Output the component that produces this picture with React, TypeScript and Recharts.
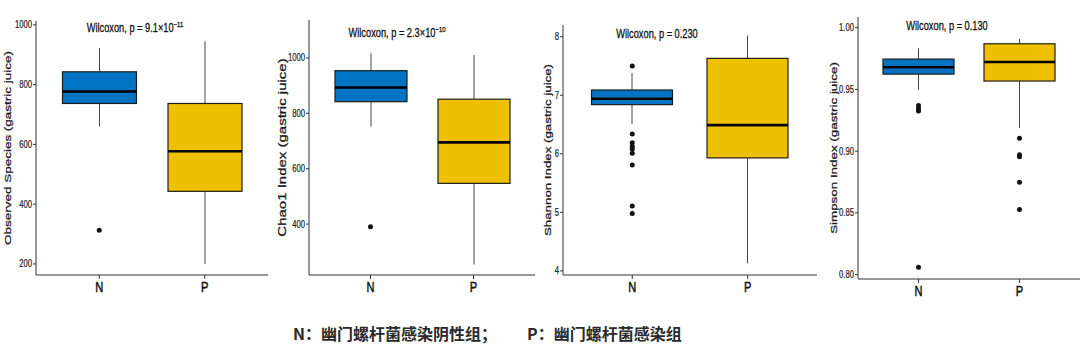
import React from "react";
import { ComposedChart, Bar, Scatter, XAxis, YAxis } from "recharts";

const groups = ["N", "P"];

// five-number summaries per group: [min, q1, median, q3, max]
const observedN = [660, 737, 777, 843, 923];
const observedP = [200, 443, 577, 737, 945];
const observedOutN = [313];
const observedOutP: number[] = [];

const chao1N = [752, 842, 893, 954, 1017];
const chao1P = [254, 547, 695, 851, 1011];
const chao1OutN = [390];
const chao1OutP: number[] = [];

const shannonN = [6.51, 6.84, 6.94, 7.09, 7.38];
const shannonP = [4.13, 5.93, 6.49, 7.63, 8.02];
const shannonOutN = [7.5, 6.34, 6.19, 6.13, 6.08, 6.01, 5.81, 5.11, 4.98];
const shannonOutP: number[] = [];

const simpsonN = [0.9497, 0.9624, 0.968, 0.9746, 0.9833];
const simpsonP = [0.9187, 0.9568, 0.9722, 0.987, 0.9908];
const simpsonOutN = [0.937, 0.9346, 0.9325, 0.806];
const simpsonOutP = [0.9105, 0.897, 0.8954, 0.8749, 0.8527];

const observedTicks = [200, 400, 600, 800, 1000];
const chao1Ticks = [400, 600, 800, 1000];
const shannonTicks = [4, 5, 6, 7, 8];
const simpsonTicks = [0.8, 0.85, 0.9, 0.95, 1.0];

const FONT = "'Liberation Sans', Arial, sans-serif";
const COLORS: Record<string, string> = { N: "#0073C2", P: "#EFC000" };
// the source image is squeezed sideways, so text is drawn narrower
const SQ = 0.74;

function BoxShape(props: any) {
  const { x, y, width, height, payload } = props;
  const [lo, q1, med, q3, hi] = payload.stats;
  const top = Math.min(y, y + height);
  const h = Math.abs(height);
  const k = h / (q3 - q1); // px per unit, from the bar the y scale drew
  const py = (v: number) => top + (q3 - v) * k;
  const cx = x + width / 2;
  return (
    <g>
      <line x1={cx} x2={cx} y1={py(hi)} y2={top} stroke="#444" strokeWidth={1} />
      <line x1={cx} x2={cx} y1={top + h} y2={py(lo)} stroke="#444" strokeWidth={1} />
      <rect x={x} y={top} width={width} height={h} fill={payload.color} stroke="#1e1e1e" strokeWidth={1.2} />
      <line x1={x} x2={x + width} y1={py(med)} y2={py(med)} stroke="#000" strokeWidth={2.6} />
    </g>
  );
}

function Dot(props: any) {
  if (props.cx == null || props.cy == null) return null;
  return <circle cx={props.cx} cy={props.cy} r={2.5} fill="#111" />;
}

function YTick(props: any) {
  const { x, y, payload, fmt } = props;
  const s = fmt ? fmt(payload.value) : String(payload.value);
  return (
    <text
      transform={`translate(${x},${y + 3.5}) scale(${SQ + 0.03},1)`}
      textAnchor="end"
      fontSize={10}
      fill="#222"
      stroke="#222"
      strokeWidth={0.2}
      fontFamily={FONT}
    >
      {s}
    </text>
  );
}

function XTick(props: any) {
  const { x, y, payload } = props;
  return (
    <text
      transform={`translate(${x},${y + 12}) scale(${SQ},1)`}
      textAnchor="middle"
      fontSize={15}
      fill="#111"
      stroke="#111"
      strokeWidth={0.5}
      fontFamily={FONT}
    >
      {payload.value}
    </text>
  );
}

function YLabel(props: any) {
  const { viewBox, text, lx, fs } = props;
  if (!viewBox) return null;
  const x = viewBox.x + lx;
  const y = viewBox.y + viewBox.height / 2;
  return (
    <text
      transform={`translate(${x},${y}) rotate(-90) scale(1,${SQ})`}
      textAnchor="middle"
      dominantBaseline="central"
      fontSize={fs}
      fill="#1a1a1a"
      stroke="#1a1a1a"
      strokeWidth={0.35}
      fontFamily={FONT}
    >
      {text}
    </text>
  );
}

type PanelCfg = {
  stats: number[][];
  outliers: number[][];
  ticks: number[];
  fmt?: (v: number) => string;
  label: string;
  labelSize: number;
  p: { main: string; exp?: string };
  // layout
  left: number;
  width: number;
  top: number;
  bottom: number;
  yw: number;
  mr: number;
  domain: [number, number];
  labelX: number;
  pad: number;
  barSize: number;
  pX: number;
  pY: number;
};

const panels: PanelCfg[] = [
  {
    stats: [observedN, observedP],
    outliers: [observedOutN, observedOutP],
    ticks: observedTicks,
    label: "Observed Species (gastric juice)",
    labelSize: 13.5,
    p: { main: "Wilcoxon, p = 9.1×10", exp: "−11" },
    left: 0, width: 270, top: 21, bottom: 275, yw: 36, mr: 2,
    domain: [163, 1013], labelX: 7.5, pad: 10.5, barSize: 74, pX: 135, pY: 28,
  },
  {
    stats: [chao1N, chao1P],
    outliers: [chao1OutN, chao1OutP],
    ticks: chao1Ticks,
    label: "Chao1 Index (gastric juice)",
    labelSize: 15,
    p: { main: "Wilcoxon, p = 2.3×10", exp: "−10" },
    left: 270, width: 270, top: 20, bottom: 275, yw: 39, mr: 5,
    domain: [216, 1137], labelX: 12, pad: 10, barSize: 72, pX: 397, pY: 33,
  },
  {
    stats: [shannonN, shannonP],
    outliers: [shannonOutN, shannonOutP],
    ticks: shannonTicks,
    label: "Shannon Index (gastric juice)",
    labelSize: 13.3,
    p: { main: "Wilcoxon, p = 0.230" },
    left: 540, width: 280, top: 25, bottom: 275, yw: 23, mr: 3,
    domain: [3.93, 8.2], labelX: 7, pad: 11.5, barSize: 81, pX: 657, pY: 34,
  },
  {
    stats: [simpsonN, simpsonP],
    outliers: [simpsonOutN, simpsonOutP],
    ticks: simpsonTicks,
    fmt: (v) => v.toFixed(2),
    label: "Simpson Index (gastric juice)",
    labelSize: 13.4,
    p: { main: "Wilcoxon, p = 0.130" },
    left: 810, width: 270, top: 17, bottom: 279, yw: 48, mr: 0,
    domain: [0.79643, 1.00868], labelX: 23, pad: 10, barSize: 71, pX: 947, pY: 26,
  },
];

function Panel({ cfg }: { cfg: PanelCfg }) {
  const rows = groups.map((g, i) => ({
    g,
    box: [cfg.stats[i][1], cfg.stats[i][3]],
    stats: cfg.stats[i],
    color: COLORS[g],
  }));
  const pts = groups.flatMap((g, i) => cfg.outliers[i].map((v) => ({ g, v })));
  const xh = 25;
  return (
    <div style={{ position: "absolute", left: cfg.left, top: 0 }}>
      <ComposedChart
        width={cfg.width}
        height={cfg.bottom + xh}
        data={rows}
        margin={{ top: cfg.top, right: cfg.mr, bottom: 0, left: 0 }}
      >
        <XAxis
          dataKey="g"
          type="category"
          allowDuplicatedCategory={false}
          padding={{ left: cfg.pad, right: cfg.pad }}
          height={xh}
          interval={0}
          tickSize={4}
          tickMargin={1}
          axisLine={{ stroke: "#333" }}
          tickLine={{ stroke: "#333" }}
          tick={<XTick />}
        />
        <YAxis
          type="number"
          domain={cfg.domain}
          allowDataOverflow
          ticks={cfg.ticks}
          interval={0}
          width={cfg.yw}
          tickSize={3}
          tickMargin={1}
          axisLine={{ stroke: "#333" }}
          tickLine={{ stroke: "#333" }}
          tick={<YTick fmt={cfg.fmt} />}
          label={<YLabel text={cfg.label} lx={cfg.labelX} fs={cfg.labelSize} />}
        />
        <Bar dataKey="box" barSize={cfg.barSize} shape={<BoxShape />} isAnimationActive={false} />
        <Scatter data={pts} dataKey="v" shape={<Dot />} isAnimationActive={false} />
      </ComposedChart>
    </div>
  );
}

const captionStyle: React.CSSProperties = {
  position: "absolute",
  top: 333,
  transform: "translateY(-50%)",
  fontFamily: "'Noto Sans CJK SC', sans-serif",
  fontWeight: 700,
  fontSize: 16,
  color: "#2a2a2a",
  whiteSpace: "nowrap",
  lineHeight: 1,
};

export default function App() {
  return (
    <div
      style={{
        position: "absolute",
        left: 0,
        top: 0,
        width: 1080,
        height: 354,
        background: "#fff",
        overflow: "hidden",
      }}
    >
      {panels.map((cfg, i) => (
        <Panel key={i} cfg={cfg} />
      ))}
      {panels.map((cfg, i) => (
        <div
          key={"p" + i}
          style={{
            position: "absolute",
            left: cfg.pX,
            top: cfg.pY,
            transform: `translate(-50%, -50%) scaleX(${SQ})`,
            whiteSpace: "nowrap",
            fontFamily: FONT,
            fontSize: 12.5,
            color: "#111",
            WebkitTextStroke: "0.3px #111",
            lineHeight: 1,
          }}
        >
          {cfg.p.main}
          {cfg.p.exp && (
            <span style={{ fontSize: 8, verticalAlign: "5px" }}>{cfg.p.exp}</span>
          )}
        </div>
      ))}
      <div style={{ ...captionStyle, left: 293 }}>N：幽门螺杆菌感染阴性组；</div>
      <div style={{ ...captionStyle, left: 527 }}>P：幽门螺杆菌感染组</div>
    </div>
  );
}
